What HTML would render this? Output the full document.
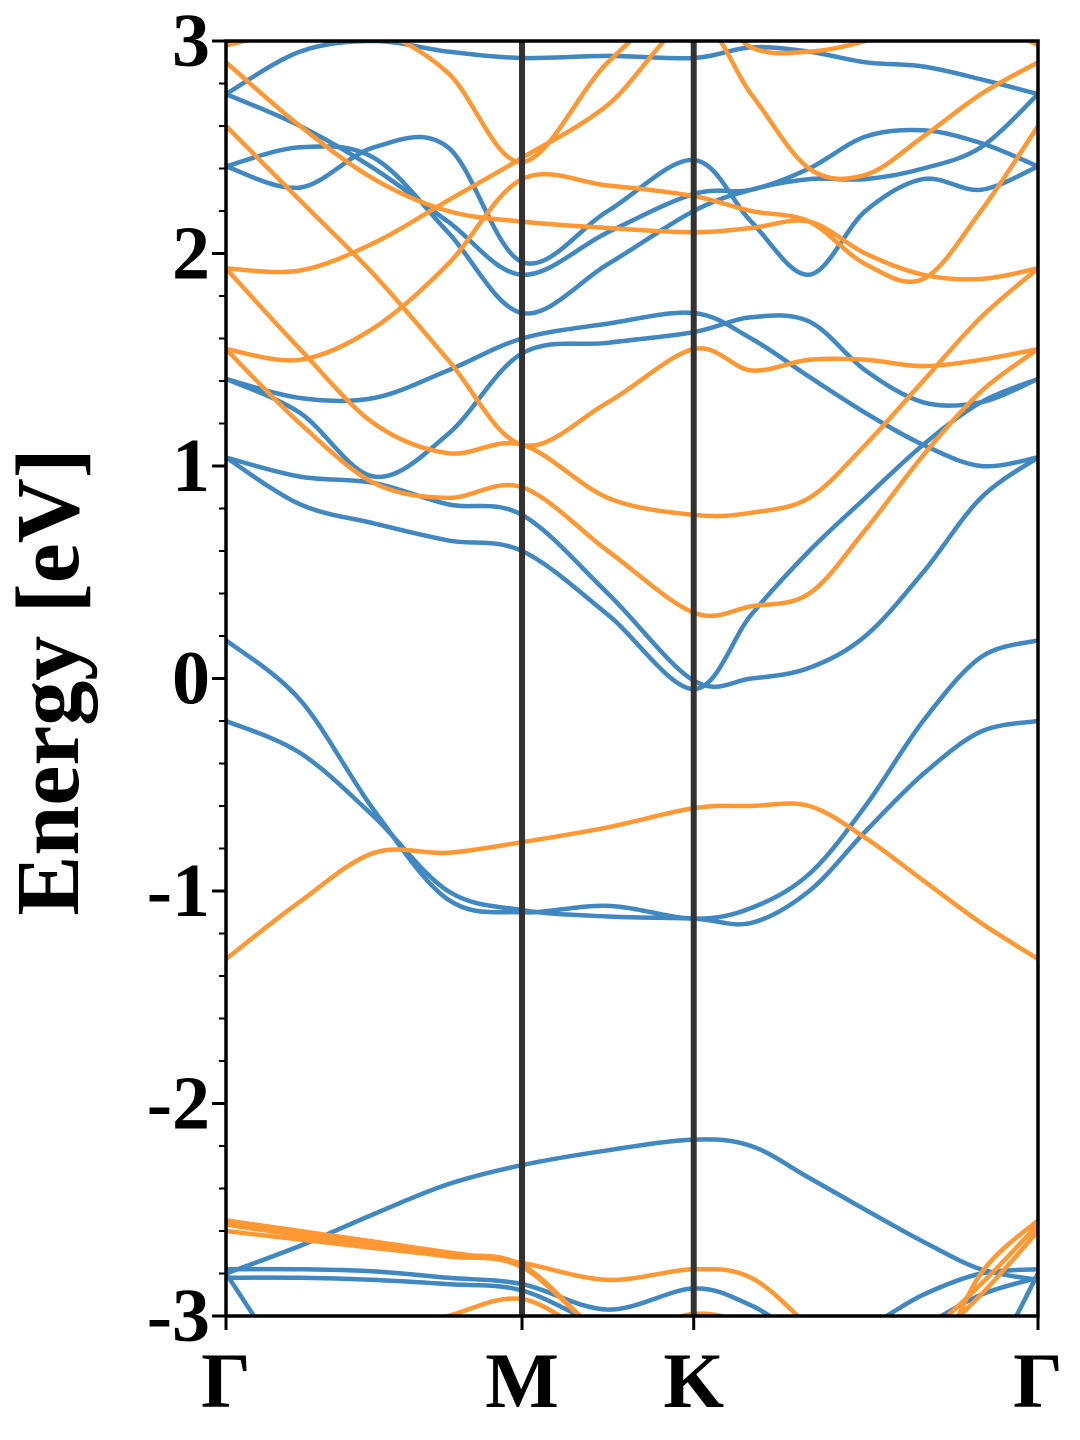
<!DOCTYPE html>
<html><head><meta charset="utf-8">
<style>
html,body{margin:0;padding:0;background:#fff;}
svg{display:block;}
text{font-family:"Liberation Serif","Times New Roman",serif;font-weight:bold;fill:#000;}
</style></head>
<body>
<svg id="chart" width="1080" height="1440" viewBox="0 0 1080 1440" xmlns="http://www.w3.org/2000/svg">
<defs><clipPath id="plotclip"><rect x="226" y="41" width="812" height="1275"/></clipPath></defs>
<g id="bands" clip-path="url(#plotclip)"></g>
<g id="axes"></g>
</svg>
<script>
// ---- data ----
const kLabels = ["Γ","M","K","Γ"];
const kLabelPos = [0, 1, 1.58, 2.743];
const kGrid = [0,0.25,0.5,0.75,1,1.29,1.58,1.774,1.97,2.16,2.355,2.55,2.743];
const yTicks = [-3,-2,-1,0,1,2,3];
const blueBands = [
 [0.18,-0.1,-0.62,-1.04,-1.10,-1.07,-1.13,-1.08,-0.92,-0.6,-0.2,0.1,0.18],
 [-0.2,-0.35,-0.65,-1.0,-1.09,-1.12,-1.13,-1.15,-1.0,-0.72,-0.45,-0.25,-0.2],
 [1.04,0.82,0.73,0.65,0.6,0.3,-0.05,0.3,0.6,0.85,1.1,1.3,1.41],
 [1.04,0.95,0.92,0.82,0.77,0.4,-0.01,0.0,0.05,0.2,0.5,0.85,1.04],
 [1.41,1.32,1.32,1.45,1.6,1.67,1.72,1.6,1.42,1.25,1.1,1.0,1.04],
 [1.41,1.25,0.95,1.15,1.53,1.58,1.63,1.7,1.68,1.45,1.3,1.3,1.41],
 [2.75,2.6,2.4,2.15,1.9,2.1,2.28,2.3,2.4,2.55,2.58,2.52,2.41],
 [2.41,2.31,2.5,2.5,1.96,2.2,2.44,2.15,1.9,2.2,2.35,2.3,2.41],
 [2.41,2.5,2.45,2.1,1.72,1.95,2.2,2.3,2.35,2.35,2.4,2.5,2.75],
 [2.75,2.95,3.0,2.95,2.92,2.93,2.92,2.97,2.95,2.9,2.88,2.82,2.75],
 [-2.8,-2.67,-2.52,-2.38,-2.29,-2.22,-2.17,-2.2,-2.35,-2.5,-2.65,-2.78,-2.83],
 [-2.78,-2.78,-2.79,-2.82,-2.85,-2.97,-2.87,-2.95,-3.1,-3.05,-2.9,-2.8,-2.78],
 [-2.82,-2.82,-2.83,-2.85,-2.88,-3.05,-3.1,-3.2,-3.3,-3.2,-3.05,-2.9,-2.82],
 [-2.8,-3.3,-3.6,-3.6,-3.6,-3.6,-3.6,-3.6,-3.6,-3.6,-3.6,-3.3,-2.8]
];
const orangeBands = [
 [-1.32,-1.05,-0.82,-0.82,-0.77,-0.7,-0.61,-0.6,-0.6,-0.75,-0.95,-1.15,-1.32],
 [1.55,1.2,0.92,0.85,0.9,0.6,0.31,0.34,0.4,0.7,1.05,1.35,1.55],
 [1.93,1.55,1.2,1.06,1.1,0.85,0.77,0.78,0.85,1.1,1.4,1.7,1.93],
 [1.55,1.5,1.65,1.95,2.35,2.32,2.27,2.2,2.15,1.95,1.88,2.2,2.6],
 [1.93,1.92,2.05,2.25,2.45,2.7,3.1,2.75,2.4,2.37,2.55,2.75,2.9],
 [2.6,2.25,1.9,1.5,1.1,1.3,1.55,1.45,1.5,1.5,1.47,1.5,1.55],
 [2.9,2.6,2.35,2.2,2.15,2.12,2.1,2.12,2.15,2.0,1.9,1.88,1.93],
 [2.98,3.05,3.05,2.85,2.43,2.9,3.2,2.97,2.95,3.0,3.1,3.1,2.98],
 [-2.55,-2.6,-2.65,-2.7,-2.75,-2.83,-2.78,-2.82,-3.05,-3.3,-3.3,-2.8,-2.55],
 [-2.57,-2.62,-2.66,-2.71,-2.76,-3.1,-3.2,-3.3,-3.3,-3.3,-3.1,-2.85,-2.57],
 [-2.6,-2.64,-2.68,-2.72,-2.77,-3.1,-3.2,-3.3,-3.3,-3.3,-3.15,-2.9,-2.6],
 [-3.3,-3.2,-3.1,-3.0,-2.92,-3.1,-2.99,-3.05,-3.2,-3.3,-3.3,-3.3,-3.3]
];
// ---- scales ----
const X0=226,X1=1038,Y0=1316,Y1=41,EMIN=-3,EMAX=3,KMAX=2.743;
const xs=k=>X0+(k/KMAX)*(X1-X0);
const ys=e=>Y0-(e-EMIN)/(EMAX-EMIN)*(Y0-Y1);
const NS="http://www.w3.org/2000/svg";
function mk(tag,attrs,parent){const el=document.createElementNS(NS,tag);for(const a in attrs)el.setAttribute(a,attrs[a]);parent.appendChild(el);return el;}
function pathFor(vals){
 const p=vals.map((v,i)=>[xs(kGrid[i]),ys(v)]);
 let d="M"+p[0][0].toFixed(1)+","+p[0][1].toFixed(1);
 for(let i=0;i<p.length-1;i++){
  const p0=p[Math.max(0,i-1)],p1=p[i],p2=p[i+1],p3=p[Math.min(p.length-1,i+2)];
  const c1=[p1[0]+(p2[0]-p0[0])/6,p1[1]+(p2[1]-p0[1])/6];
  const c2=[p2[0]-(p3[0]-p1[0])/6,p2[1]-(p3[1]-p1[1])/6];
  d+=" C"+c1.map(n=>n.toFixed(1))+" "+c2.map(n=>n.toFixed(1))+" "+p2.map(n=>n.toFixed(1));
 }
 return d;
}
const bands=document.getElementById("bands");
blueBands.forEach((b,i)=>{
 const el=mk("path",{d:pathFor(b),fill:"none",stroke:"#3f88c2","stroke-width":4.5},bands);
 
 
});
orangeBands.forEach((b,i)=>{
 const el=mk("path",{d:pathFor(b),fill:"none",stroke:"#ff9832","stroke-width":4.5},bands);
 
 
});
const axes=document.getElementById("axes");
kLabelPos.slice(1,3).forEach((k,i)=>{
 const el=mk("line",{x1:xs(k),x2:xs(k),y1:Y1,y2:Y0,stroke:"#333","stroke-width":6},axes);
 
 
});
const fr=mk("rect",{x:X0,y:Y1,width:X1-X0,height:Y0-Y1,fill:"none",stroke:"#000","stroke-width":3.5},axes);


for(let e=EMIN*10;e<=EMAX*10;e+=2){
 const v=e/10,maj=Math.abs(v-Math.round(v))<1e-6;
 const t=mk("line",{x1:X0,x2:X0-(maj?14:7),y1:ys(v),y2:ys(v),stroke:"#000","stroke-width":maj?3:2},axes);
 
 
}
yTicks.forEach(v=>{
 const t=mk("text",{x:210,y:ys(v)+25,"text-anchor":"end","font-size":76},axes);
 t.textContent=String(v);
 
 
});
kLabelPos.forEach((k,i)=>{
 const t=mk("line",{x1:xs(k),x2:xs(k),y1:Y0,y2:Y0+14,stroke:"#000","stroke-width":3},axes);
 
 
 const l=mk("text",{x:xs(k),y:1407,"text-anchor":"middle","font-size":78},axes);
 l.textContent=kLabels[i];
 
 
});
const yt=mk("text",{x:0,y:0,"text-anchor":"middle","font-size":90,transform:"translate(78,682) rotate(-90)"},axes);
yt.textContent="Energy [eV]";


</script>
</body></html>
